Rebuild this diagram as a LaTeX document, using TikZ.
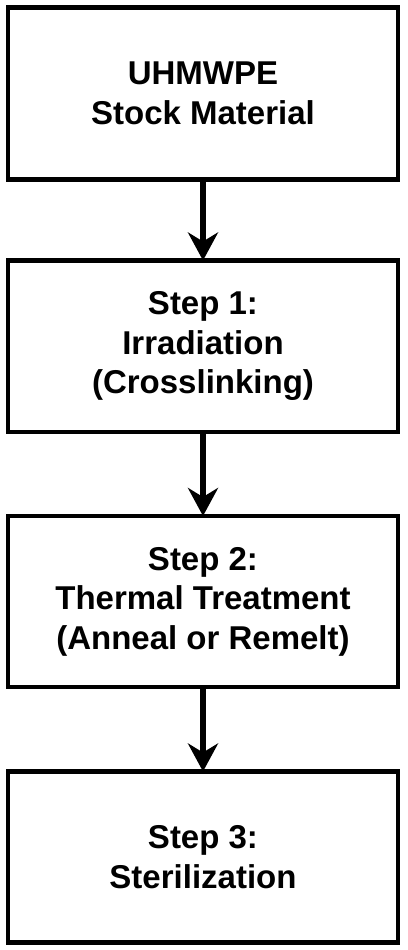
\documentclass[tikz,border=0pt]{standalone}
\usepackage{fontspec}
\setmainfont{Liberation Sans}
\usetikzlibrary{arrows.meta}
\begin{document}
\begin{tikzpicture}[x=1pt,y=-1pt,
  stagebox/.style={draw=black, line width=4.5pt, fill=white, outer sep=0pt,
    minimum width=390pt, inner sep=0pt, align=center,
    font=\bfseries\fontsize{33}{39.5}\selectfont},
  flowarrow/.style={line width=6pt, -{Stealth[length=28pt, width=30pt, inset=9pt]}}]
\useasboundingbox (0,0) rectangle (407,950);
\node[stagebox, minimum height=172pt] (b1) at (203,93.5) {UHMWPE\\Stock Material};
\node[stagebox, minimum height=171.5pt] (b2) at (203,346.25) {Step 1:\\Irradiation\\(Crosslinking)};
\node[stagebox, minimum height=171pt] (b3) at (203,601.5) {Step 2:\\Thermal Treatment\\(Anneal or Remelt)};
\node[stagebox, minimum height=171pt] (b4) at (203,857) {Step 3:\\Sterilization};
\draw[flowarrow] (b1.south) -- (b2.north);
\draw[flowarrow] (b2.south) -- (b3.north);
\draw[flowarrow] (b3.south) -- (b4.north);
\end{tikzpicture}
\end{document}
